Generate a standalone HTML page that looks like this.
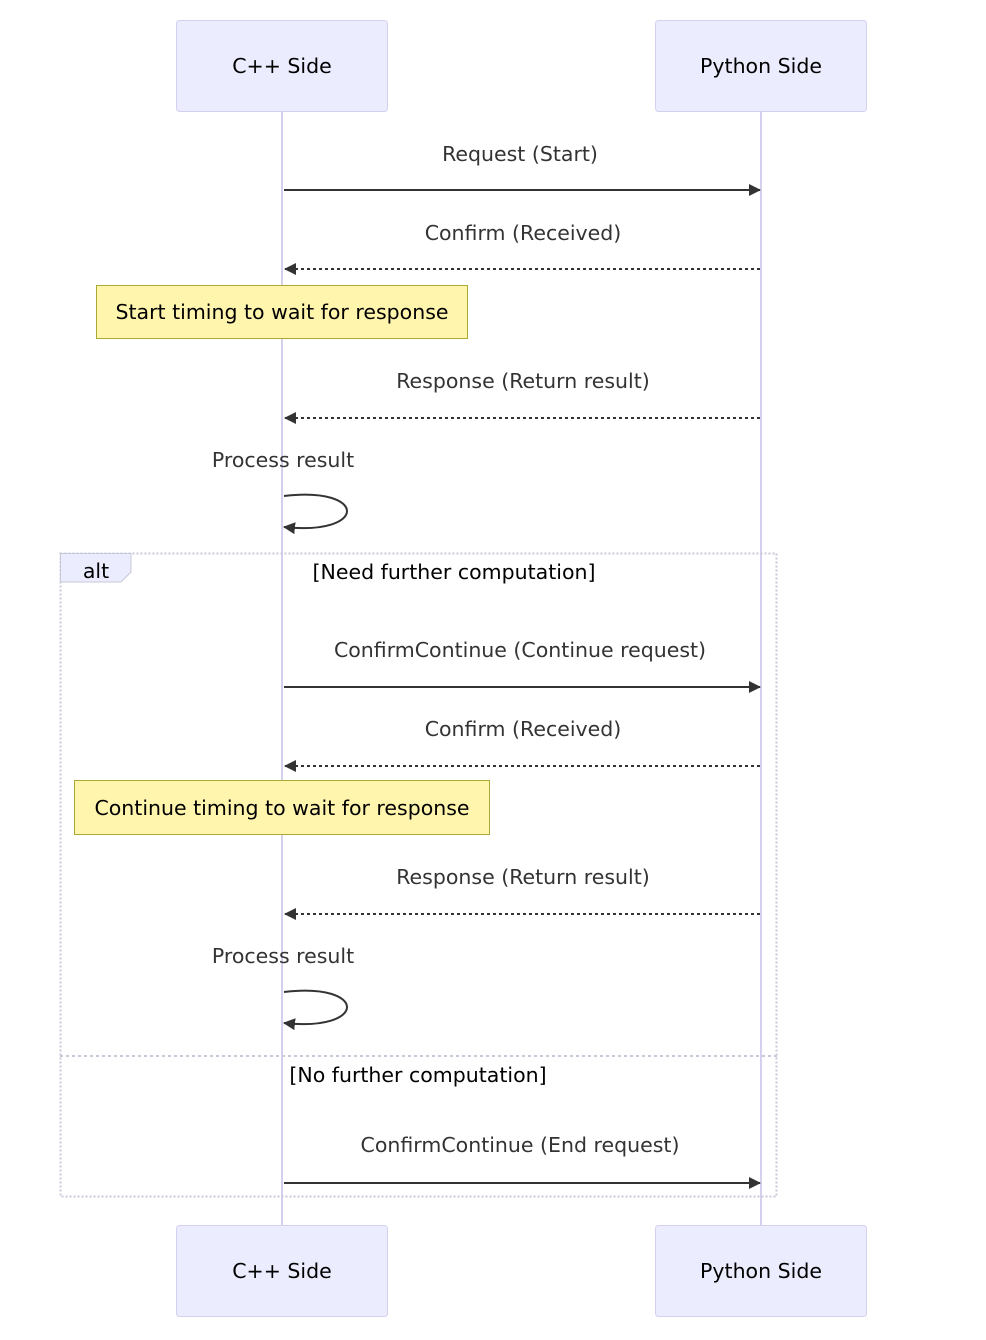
<!DOCTYPE html>
<html><head><meta charset="utf-8">
<style>
html,body{margin:0;padding:0;background:#fff;}
svg{display:block;}
text{font-family:"DejaVu Sans","Liberation Sans",sans-serif;font-size:20.5px;fill:#333;}
</style></head>
<body>
<svg width="986" height="1340" viewBox="0 0 986 1340" xmlns="http://www.w3.org/2000/svg">
<defs>
<marker id="ah" markerWidth="12" markerHeight="12" refX="11" refY="6" orient="auto" markerUnits="userSpaceOnUse">
<path d="M0,0 L12,6 L0,12 z" fill="#333"/>
</marker>
</defs>
<line x1="282" y1="111" x2="282" y2="1225" stroke="#d4d0ee" stroke-width="2"/>
<line x1="761" y1="111" x2="761" y2="1225" stroke="#d4d0ee" stroke-width="2"/>
<rect x="176.5" y="20.5" width="211" height="91" rx="3" fill="#ececff" stroke="#d4d0ee"/>
<rect x="655.5" y="20.5" width="211" height="91" rx="3" fill="#ececff" stroke="#d4d0ee"/>
<rect x="176.5" y="1225.5" width="211" height="91" rx="3" fill="#ececff" stroke="#d4d0ee"/>
<rect x="655.5" y="1225.5" width="211" height="91" rx="3" fill="#ececff" stroke="#d4d0ee"/>
<text x="282" y="73" text-anchor="middle" style="fill:#000">C++ Side</text>
<text x="761" y="73" text-anchor="middle" style="fill:#000">Python Side</text>
<text x="282" y="1278" text-anchor="middle" style="fill:#000">C++ Side</text>
<text x="761" y="1278" text-anchor="middle" style="fill:#000">Python Side</text>

<text x="520" y="161" text-anchor="middle">Request (Start)</text>
<line x1="284" y1="190" x2="760" y2="190" stroke="#333" stroke-width="2" marker-end="url(#ah)"/>
<text x="523" y="240" text-anchor="middle">Confirm (Received)</text>
<line x1="760" y1="269" x2="285" y2="269" stroke="#333" stroke-width="2" stroke-dasharray="3,3" marker-end="url(#ah)"/>
<rect x="96.5" y="285.5" width="371" height="53" fill="#fff5ad" stroke="#aaaa33"/>
<text x="282" y="319" text-anchor="middle" style="fill:#000">Start timing to wait for response</text>
<text x="523" y="388" text-anchor="middle">Response (Return result)</text>
<line x1="760" y1="418" x2="285" y2="418" stroke="#333" stroke-width="2" stroke-dasharray="3,3" marker-end="url(#ah)"/>
<text x="283" y="467" text-anchor="middle">Process result</text>
<path d="M284,496 C368,486 368,536 284,527" fill="none" stroke="#333" stroke-width="2" marker-end="url(#ah)"/>

<rect x="60.5" y="553.5" width="716" height="643" fill="none" stroke="#c8c8d8" stroke-width="2" stroke-dasharray="2,2"/>
<path d="M60.5,553.5 H131 V572 L121,582 H60.5 z" fill="#ececff" stroke="#c8c8d8"/>
<text x="96" y="578" text-anchor="middle" style="fill:#000">alt</text>
<text x="454" y="579" text-anchor="middle" style="fill:#000">[Need further computation]</text>
<text x="520" y="657" text-anchor="middle">ConfirmContinue (Continue request)</text>
<line x1="284" y1="687" x2="760" y2="687" stroke="#333" stroke-width="2" marker-end="url(#ah)"/>
<text x="523" y="736" text-anchor="middle">Confirm (Received)</text>
<line x1="760" y1="766" x2="285" y2="766" stroke="#333" stroke-width="2" stroke-dasharray="3,3" marker-end="url(#ah)"/>
<rect x="74.5" y="780.5" width="415" height="54" fill="#fff5ad" stroke="#aaaa33"/>
<text x="282" y="815" text-anchor="middle" style="fill:#000">Continue timing to wait for response</text>
<text x="523" y="884" text-anchor="middle">Response (Return result)</text>
<line x1="760" y1="914" x2="285" y2="914" stroke="#333" stroke-width="2" stroke-dasharray="3,3" marker-end="url(#ah)"/>
<text x="283" y="963" text-anchor="middle">Process result</text>
<path d="M284,992 C368,982 368,1032 284,1023" fill="none" stroke="#333" stroke-width="2" marker-end="url(#ah)"/>
<line x1="60" y1="1056" x2="777" y2="1056" stroke="#c8c8d8" stroke-width="2" stroke-dasharray="3,3"/>
<text x="418" y="1082" text-anchor="middle" style="fill:#000">[No further computation]</text>
<text x="520" y="1152" text-anchor="middle">ConfirmContinue (End request)</text>
<line x1="284" y1="1183" x2="760" y2="1183" stroke="#333" stroke-width="2" marker-end="url(#ah)"/>
</svg>
</body></html>
